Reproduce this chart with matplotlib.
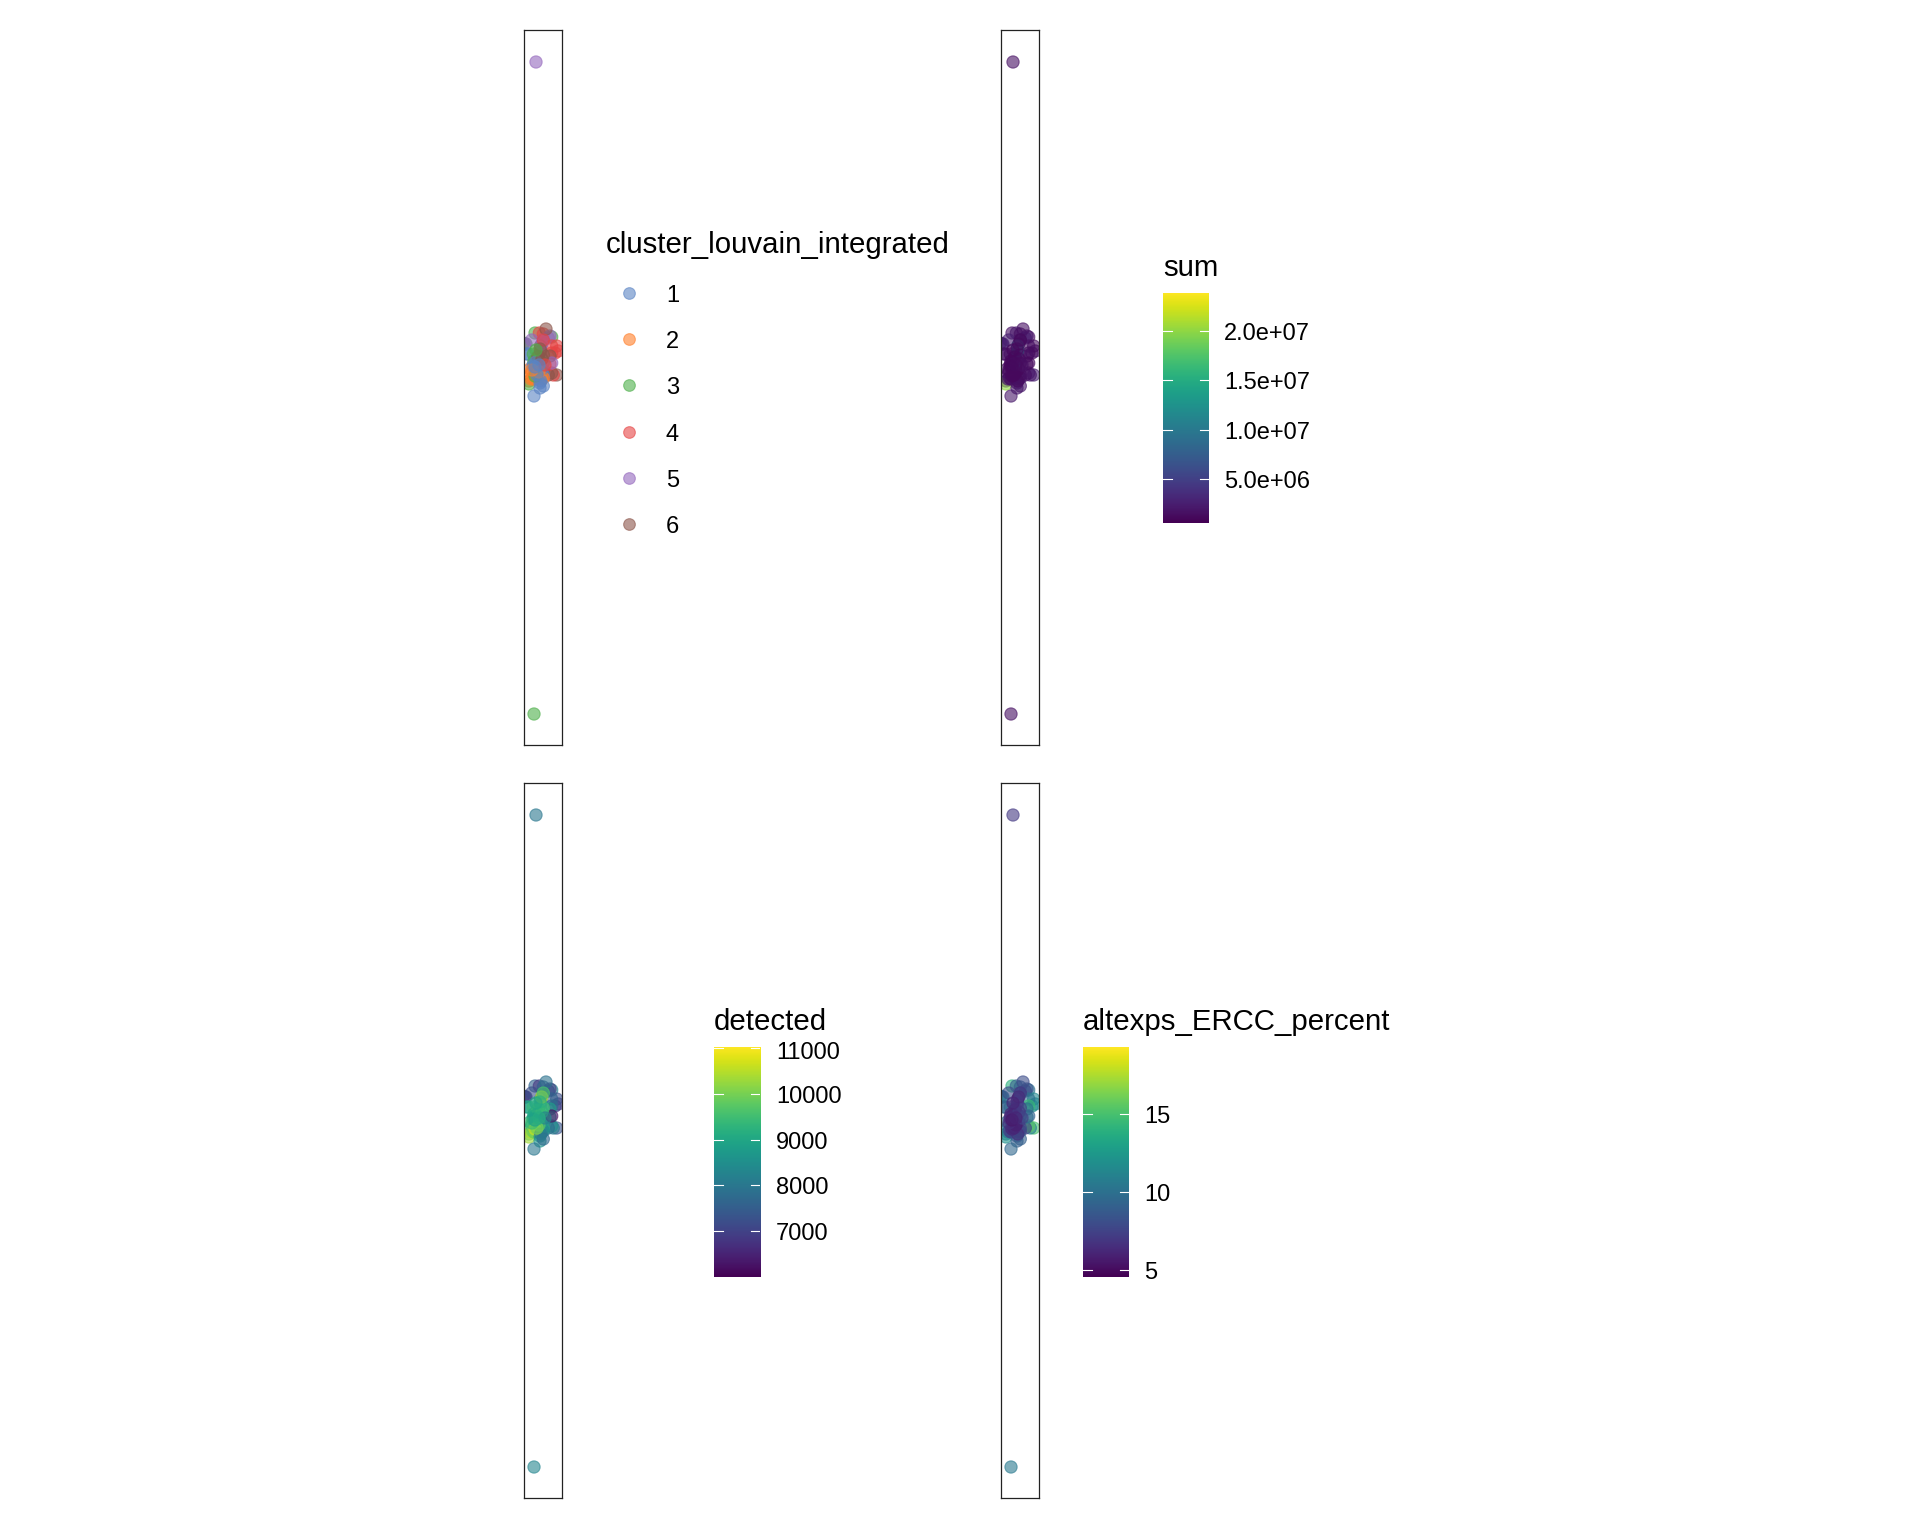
"""Four embedding panels coloured by cluster and QC metrics."""

import matplotlib
matplotlib.use("Agg")
import matplotlib.pyplot as plt
import numpy as np
from matplotlib.colors import Normalize
from matplotlib.lines import Line2D

plt.rcParams["font.family"] = ["Liberation Sans", "DejaVu Sans"]

WIDTH, HEIGHT = 1920, 1536

umap_1 = [0.50, 0.50, 0.70, 0.60, 0.75, -0.07, 0.20, 0.10, 0.27, 0.43,
          2.77, 1.10, 1.53, 1.93, 2.60, 2.43, 0.77, 1.93, 3.43, 3.10,
          3.27, 2.77, 2.77, 3.27, 2.93, 2.77, 2.43, 2.60, 2.60, 1.43,
          0.93, 1.60, 1.93, 1.43, 1.10, 1.93, 1.27, 1.77, 1.00, 0.85,
          1.93, 1.60, 1.60, 1.93, 1.00, 0.93, 1.10, 1.43, 1.77, 1.27,
          2.77, 1.67, 1.67, 2.20, 1.93, 1.77, 1.00, 1.10, 1.67, 1.93,
          1.40, 1.20, 1.80, 0.90, 1.50, 2.10, 1.30, 1.60, 0.80, 1.20, 1.10, 1.50,
          1.20, 1.00]
umap_2 = [36.4, 36.1, 36.6, 37.6, 37.2, 40.2, 40.1, 40.1, 39.1, 39.1,
          40.8, 41.2, 41.2, 41.1, 40.9, 40.7, 40.5, 40.5, 39.4, 39.2,
          39.9, 39.9, 39.2, 37.0, 37.0, 37.2, 37.0, 38.1, 38.9, 38.9,
          39.1, 38.4, 38.2, 37.6, 37.2, 37.0, 36.9, 36.6, 36.6, 36.7,
          36.7, 36.2, 35.7, 35.9, 34.9, 38.1, 38.1, 37.6, 37.6, 38.1,
          38.2, 39.9, 39.4, 41.6, 39.0, 40.1, 38.4, 36.9, 36.4, 40.5,
          38.8, 38.3, 38.6, 37.9, 37.3, 38.0, 37.0, 39.6, 37.5, 39.5, 37.8, 38.0,
          68.3, 3.1]
cluster = [2, 3, 2, 2, 2, 3, 3, 5, 1, 1,
           3, 3, 4, 4, 5, 5, 5, 5, 4, 4,
           4, 4, 4, 6, 4, 6, 6, 4, 6, 3,
           3, 3, 3, 3, 1, 1, 2, 2, 2, 2,
           2, 1, 1, 1, 1, 1, 1, 1, 1, 1,
           5, 6, 6, 6, 6, 5, 3, 3, 1, 4,
           6, 1, 6, 1, 2, 4, 1, 6, 2, 3, 1, 1,
           5, 3]
total_sum = [2.5e6, 2.0e7, 2e6, 1.5e6, 1.5e6, 2e6, 2.5e6, 2.5e6, 2e6, 1.5e6,
             1.5e6, 1.5e6, 2e6, 1.5e6, 2e6, 2.5e6, 2.5e6, 1.5e6, 1.5e6, 1.5e6,
             1.2e6, 1.5e6, 1.2e6, 2.5e6, 2e6, 2e6, 1.5e6, 1.5e6, 1.5e6, 1.5e6,
             1.5e6, 1.5e6, 1.2e6, 1.2e6, 1.5e6, 1.5e6, 1.2e6, 1.5e6, 1.2e6, 1.5e6,
             1.5e6, 1.5e6, 2e6, 2e6, 2e6, 1e6, 1.2e6, 1.2e6, 1.2e6, 1e7,
             1e6, 1.05e7, 1.15e7, 1.5e6, 1.5e6, 1e6, 1e6, 1e6, 1.2e6, 1.2e6,
             1e6, 1e6, 1.2e6, 1.1e6, 1e6, 1.5e6, 1e6, 1.2e6, 1.1e6, 1e6, 1e6, 1.2e6,
             1.5e6, 1.5e6]
detected = [9800, 10300, 10400, 9500, 9200, 7600, 7000, 6800, 8800, 9000,
            8200, 7600, 6800, 7500, 6900, 7200, 7200, 8000, 6900, 7000,
            7200, 7600, 7800, 7300, 8100, 8500, 7800, 8500, 8800, 9300,
            9400, 9600, 9400, 9100, 9200, 9000, 9700, 8300, 9800, 10000,
            8400, 8700, 8600, 7700, 8000, 9200, 8800, 8400, 8700, 9000,
            6200, 7900, 8500, 7900, 9500, 10500, 9000, 10600, 8000, 9600,
            9500, 9000, 9300, 8900, 9700, 8200, 10000, 9200, 9400, 9000, 8900, 9100,
            8000, 8300]
ercc_percent = [11, 12, 11, 10, 10, 10, 11, 10, 10, 9,
                10, 14, 9, 9, 8.5, 8, 8, 8, 11, 12,
                11.5, 10, 14.5, 15, 11, 15.5, 7.5, 11, 10, 10,
                9.5, 9, 9, 8.5, 9, 8, 7, 8, 7, 7.5,
                7.5, 8, 9, 9, 9.5, 6, 6.5, 6, 7, 8.5,
                9, 7.5, 8, 8, 7.5, 5.5, 6, 6, 6.5, 7,
                6.5, 6, 7, 6.5, 5.5, 7.5, 6, 7, 6.5, 6, 5.5, 6,
                7, 10.5]

cluster_labels = [1, 2, 3, 4, 5, 6]
cluster_colors = ["#5b84c4", "#ff7f2a", "#4daf4a", "#e64444", "#9467bd", "#8c564b"]

sum_ticks = [5e6, 1e7, 1.5e7, 2e7]
sum_tick_labels = ["5.0e+06", "1.0e+07", "1.5e+07", "2.0e+07"]
sum_range = (0.54e6, 2.385e7)
detected_ticks = [7000, 8000, 9000, 10000, 11000]
detected_tick_labels = ["7000", "8000", "9000", "10000", "11000"]
detected_range = (6000, 11020)
ercc_ticks = [5, 10, 15]
ercc_tick_labels = ["5", "10", "15"]
ercc_range = (4.55, 19.3)

ALPHA = 0.6
POINT_SIZE = 78


def px_rect(left, top, right, bottom):
    return [left / WIDTH, 1 - bottom / HEIGHT, (right - left) / WIDTH, (bottom - top) / HEIGHT]


def px_text(fig, x, y, text, size):
    fig.text(x / WIDTH, 1 - y / HEIGHT, text, fontsize=size, ha="left", va="center", color="black")


def add_panel(fig, left, top, colors):
    ax = fig.add_axes(px_rect(left, top, left + 38, top + 715))
    ax.scatter(umap_1, umap_2, s=POINT_SIZE, c=colors, alpha=ALPHA, edgecolors="face", linewidths=0.8)
    ax.set_xlim(0, 3.8)
    ax.set_ylim(0, 71.5)
    ax.set_xticks([])
    ax.set_yticks([])
    for spine in ax.spines.values():
        spine.set_linewidth(0.9)
        spine.set_edgecolor("#222222")
    return ax


def add_colorbar(fig, left, top, title, title_y, vrange, ticks, tick_labels, label_x):
    ax = fig.add_axes(px_rect(left, top, left + 46, top + 230))
    levels = np.linspace(vrange[0], vrange[1], 300)
    ax.imshow(levels[:, None], cmap="viridis", origin="lower", aspect="auto",
              extent=[0, 1, vrange[0], vrange[1]])
    ax.axis("off")
    for tick in ticks:
        ax.plot([0, 0.2], [tick, tick], color="white", lw=0.8)
        ax.plot([0.8, 1], [tick, tick], color="white", lw=0.8)
    scale = 230 / (vrange[1] - vrange[0])
    for tick, label in zip(ticks, tick_labels):
        y = top + 230 - (tick - vrange[0]) * scale
        px_text(fig, label_x, max(y, top + 3) + 3, label, 17)
    px_text(fig, left, title_y + 2, title, 21.2)


fig = plt.figure(figsize=(WIDTH / 100, HEIGHT / 100), dpi=100)

point_colors = [cluster_colors[c - 1] for c in cluster]
add_panel(fig, 524, 30, point_colors)

sum_norm = Normalize(*sum_range)
add_panel(fig, 1001, 30, plt.cm.viridis(sum_norm(total_sum)))

det_norm = Normalize(*detected_range)
add_panel(fig, 524, 783, plt.cm.viridis(det_norm(detected)))

ercc_norm = Normalize(*ercc_range)
add_panel(fig, 1001, 783, plt.cm.viridis(ercc_norm(ercc_percent)))

# cluster legend
px_text(fig, 606, 245, "cluster_louvain_integrated", 21.2)
legend_ax = fig.add_axes([0, 0, 1, 1], facecolor="none")
legend_ax.set_xlim(0, WIDTH)
legend_ax.set_ylim(HEIGHT, 0)
legend_ax.axis("off")
for i, (label, color) in enumerate(zip(cluster_labels, cluster_colors)):
    y = 293 + i * 46.2
    legend_ax.add_line(Line2D([629], [y], marker="o", ms=8.4, color=color, alpha=ALPHA, mew=0.8, ls="none"))
    px_text(fig, 666, y + 3, str(label), 17)

add_colorbar(fig, 1163, 293, "sum", 266, sum_range, sum_ticks, sum_tick_labels, 1224)
add_colorbar(fig, 714, 1047, "detected", 1020, detected_range, detected_ticks, detected_tick_labels, 776)
add_colorbar(fig, 1083, 1047, "altexps_ERCC_percent", 1020, ercc_range, ercc_ticks, ercc_tick_labels, 1144)

fig.savefig("out.png", dpi=100, facecolor="white")
plt.close(fig)
